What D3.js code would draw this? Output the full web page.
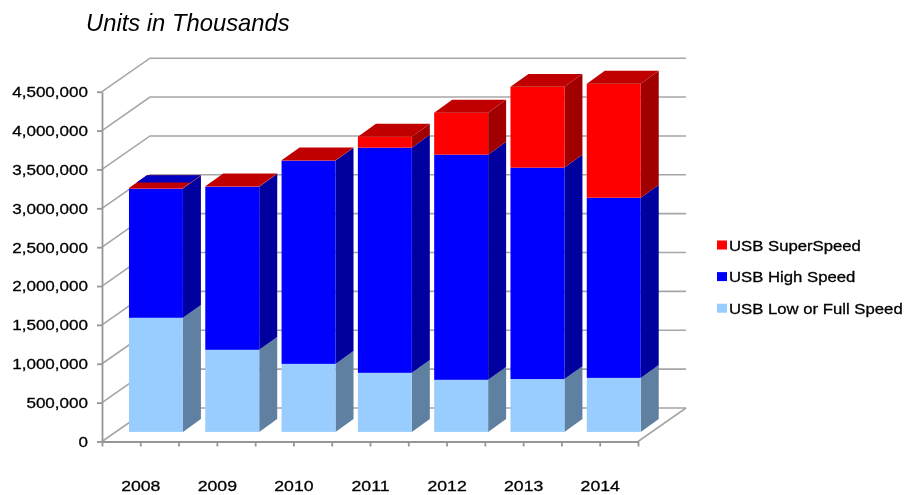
<!DOCTYPE html>
<html>
<head>
<meta charset="utf-8">
<script src="https://cdn.jsdelivr.net/npm/d3@7/dist/d3.min.js"></script>
<style>
body { margin: 0; background: #fff; }
svg { display: block; filter: blur(0.35px); }
text { font-family: "Liberation Sans", Arial, sans-serif; fill: #000; }
.heavy { stroke: #000; stroke-width: 0.3px; }
</style>
</head>
<body>
<div class="chart"></div>
<script>
var categories = ["2008", "2009", "2010", "2011", "2012", "2013", "2014"];
var lowFull = [1468000, 1056000, 875000, 760000, 670000, 680000, 695000];
var highSpeed = [1662000, 2099000, 2615000, 2897000, 2897000, 2720000, 2318000];
var superSpeed = [8000, 5000, 5000, 141000, 540000, 1040000, 1467000];
var yTicks = [0, 500000, 1000000, 1500000, 2000000, 2500000, 3000000, 3500000, 4000000, 4500000];
var seriesNames = ["USB Low or Full Speed", "USB High Speed", "USB SuperSpeed"];

var colors = [
	{ front: "#99ccff", side: "#5f80a0", top: "#7fa8d0" },
	{ front: "#0000ff", side: "#00009f", top: "#0000c0" },
	{ front: "#ff0000", side: "#a00000", top: "#c00000" }
];

// depth of the floor, and where the bars sit on it
var wallDx = 48, wallDy = -33.5;
var barShiftY = -9.6, barDx = 18, barDy = -12.8;
var stretch = 1.1;

var svg = d3.select(".chart").append("svg")
	.attr("width", 906)
	.attr("height", 495);

var y = d3.scaleLinear().domain([0, 4500000]).range([441.5, 91.7]);
var xFloor = d3.scaleLinear().domain([0, categories.length]).range([102, 638]);
var xBar = d3.scaleBand().domain(categories).range([117.8, 651.9]).paddingInner(0.293).paddingOuter(0.1465);

// walls and floor
var grid = svg.append("g").attr("fill", "none").attr("stroke", "#a6a6a6").attr("stroke-width", 1.6);
grid.selectAll("path")
	.data(yTicks)
	.enter()
	.append("path")
	.attr("d", function (d) {
		var x0 = xFloor(0), x1 = xFloor(categories.length) + wallDx;
		return "M" + x0 + "," + y(d) + "L" + (x0 + wallDx) + "," + (y(d) + wallDy) + "L" + x1 + "," + (y(d) + wallDy);
	});
grid.append("path")
	.attr("d", "M" + xFloor(categories.length) + "," + y(0) + "L" + (xFloor(categories.length) + wallDx) + "," + (y(0) + wallDy));

// axes
var yAxis = d3.axisLeft(y)
	.tickValues(yTicks)
	.tickFormat(d3.format(","))
	.tickSize(5)
	.tickSizeOuter(0)
	.tickPadding(9);
var yG = svg.append("g").attr("transform", "translate(102,0)").call(yAxis);

var xAxis = d3.axisBottom(xFloor)
	.tickValues(d3.range(0, categories.length + 0.5, 0.5))
	.tickFormat(function (d) { return d % 1 ? categories[Math.floor(d)] : ""; })
	.tickSize(5)
	.tickSizeOuter(0)
	.tickPadding(33.5);
var xG = svg.append("g").attr("transform", "translate(0," + y(0) + ")").call(xAxis);

[yG, xG].forEach(function (g) {
	g.selectAll("path, line").attr("stroke", "#969696").attr("stroke-width", 1.8);
	g.selectAll("text").attr("class", "heavy");
});
yG.selectAll("text").style("font-size", "15.5px").attr("x", 0).attr("transform", "translate(-14,0) scale(" + stretch + ",1)");
xG.selectAll("text").style("font-size", "15.5px").attr("transform", "scale(1.14,1)");

// bars never overlap each other, so drawing order only matters inside a stack
var stacked = d3.stack().keys([0, 1, 2]).value(function (d, k) { return d[k]; })(
	categories.map(function (c, i) { return [lowFull[i], highSpeed[i], superSpeed[i]]; })
);

function poly(pts) { return pts.map(function (p) { return p.join(","); }).join(" "); }

var bars = svg.selectAll("g.bar")
	.data(categories)
	.enter()
	.append("g")
	.attr("class", "bar");

bars.each(function (c, i) {
	var g = d3.select(this);
	var x0 = xBar(c), x1 = x0 + xBar.bandwidth();
	stacked.forEach(function (layer, k) {
		var yb = y(layer[i][0]) + barShiftY, yt = y(layer[i][1]) + barShiftY;
		g.append("polygon")
			.attr("points", poly([[x1, yb], [x1 + barDx, yb + barDy], [x1 + barDx, yt + barDy], [x1, yt]]))
			.attr("fill", colors[k].side);
		g.append("rect")
			.attr("x", x0).attr("y", yt)
			.attr("width", x1 - x0).attr("height", yb - yt)
			.attr("fill", colors[k].front);
	});
	var total = y(stacked[2][i][1]) + barShiftY;
	g.append("polygon")
		.attr("points", poly([[x0, total], [x1, total], [x1 + barDx, total + barDy], [x0 + barDx, total + barDy]]))
		.attr("fill", colors[2].top);
	// the 2008 SuperSpeed slice is so thin the blue top shows through behind it
	if (i === 0) {
		var f = 0.42;
		g.append("polygon")
			.attr("points", poly([[x0 + barDx * f, total + barDy * f], [x1 + barDx * f, total + barDy * f], [x1 + barDx, total + barDy], [x0 + barDx, total + barDy]]))
			.attr("fill", colors[1].top);
	}
});

// title
svg.append("text")
	.attr("x", 86)
	.attr("y", 31)
	.attr("font-style", "italic")
	.style("font-size", "23.8px")
	.text("Units in Thousands");

// legend
var legend = svg.selectAll("g.legend")
	.data(seriesNames.slice().reverse())
	.enter()
	.append("g")
	.attr("class", "legend")
	.attr("transform", function (d, i) { return "translate(717," + (245 + i * 31.6) + ")"; });
legend.append("rect")
	.attr("x", 0).attr("y", -4.5)
	.attr("width", 10).attr("height", 9)
	.attr("fill", function (d, i) { return colors[2 - i].front; });
legend.append("text")
	.attr("class", "heavy")
	.attr("transform", "translate(12,5.5) scale(" + stretch + ",1)")
	.style("font-size", "15.2px")
	.text(function (d) { return d; });
</script>
</body>
</html>
